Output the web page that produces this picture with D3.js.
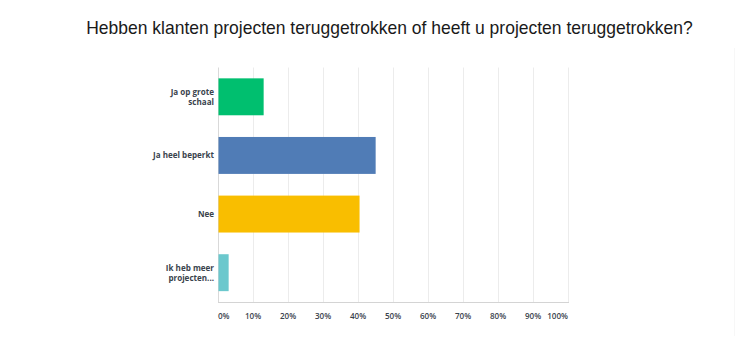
<!DOCTYPE html>
<html>
<head>
<meta charset="utf-8">
<script src="https://cdn.jsdelivr.net/npm/d3@7"></script>
<style>
  html, body { margin: 0; padding: 0; background: #ffffff; }
  svg { display: block; }
</style>
</head>
<body>
<svg id="chart" width="750" height="341"></svg>
<script>
// Survey answers and their share of respondents (%)
const categories = [
  ["Ja op grote", "schaal"],
  ["Ja heel beperkt"],
  ["Nee"],
  ["Ik heb meer", "projecten..."]
];
const values = [12.9, 44.9, 40.3, 2.9];
const barColors = ["#00bf6f", "#507cb6", "#f9be00", "#6bc8cd"];
const tickValues = [0, 10, 20, 30, 40, 50, 60, 70, 80, 90, 100];
const tickLabels = ["0%", "10%", "20%", "30%", "40%", "50%", "60%", "70%", "80%", "90%", "100%"];
const title = "Hebben klanten projecten teruggetrokken of heeft u projecten teruggetrokken?";

const svg = d3.select("#chart");
const plot = { left: 218, right: 568, top: 67.5, bottom: 302 };

const x = d3.scaleLinear().domain([0, 100]).range([plot.left, plot.right]);
const y = d3.scaleBand()
  .domain(d3.range(categories.length))
  .range([plot.top, plot.bottom])
  .paddingInner(0.37)
  .paddingOuter(0.185);

// faint frame line on the right
svg.append("line")
  .attr("x1", 734.5).attr("x2", 734.5)
  .attr("y1", 48).attr("y2", 336)
  .attr("stroke", "#f7f7f7").attr("stroke-width", 1);

// title
const titleText = svg.append("text")
  .attr("x", 389.5).attr("y", 34)
  .attr("text-anchor", "middle")
  .attr("font-family", "'Liberation Sans', Arial, sans-serif")
  .attr("font-size", 17)
  .attr("fill", "#1a1a1a")
  .text(title);
const tw = titleText.node().getComputedTextLength();
titleText.attr("font-size", 17 * 607 / tw);

// vertical gridlines
svg.append("g")
  .selectAll("line")
  .data(tickValues)
  .join("line")
  .attr("x1", d => Math.round(x(d)) + 0.5)
  .attr("x2", d => Math.round(x(d)) + 0.5)
  .attr("y1", plot.top)
  .attr("y2", plot.bottom)
  .attr("stroke", d => d === 0 ? "#d9d9d9" : "#ececec")
  .attr("stroke-width", 1);

// bottom axis line
svg.append("line")
  .attr("x1", plot.left).attr("x2", plot.right + 1)
  .attr("y1", plot.bottom + 0.5).attr("y2", plot.bottom + 0.5)
  .attr("stroke", "#d4d4d4").attr("stroke-width", 1.2);

// bars
svg.append("g")
  .selectAll("rect")
  .data(values)
  .join("rect")
  .attr("x", x(0) + 0.5)
  .attr("y", (d, i) => y(i))
  .attr("width", d => x(d) - x(0))
  .attr("height", y.bandwidth())
  .attr("fill", (d, i) => barColors[i]);

// label font sized so "Ja heel beperkt" spans about 61px
const labelFont = "'Open Sans', 'DejaVu Sans', sans-serif";
const probe = svg.append("text")
  .attr("font-family", labelFont).attr("font-size", 10).attr("font-weight", 700)
  .text("Ja heel beperkt");
const labelSize = 10 * 61 / probe.node().getComputedTextLength();
probe.remove();

// category labels
const catG = svg.append("g");
categories.forEach((lines, i) => {
  const cy = y(i) + y.bandwidth() / 2;
  const lh = 10;
  const t = catG.append("text")
    .attr("text-anchor", "end")
    .attr("font-family", labelFont)
    .attr("font-size", labelSize)
    .attr("font-weight", 700)
    .attr("fill", "#3a434d");
  lines.forEach((ln, j) => {
    t.append("tspan")
      .attr("x", 214)
      .attr("y", cy + (j - (lines.length - 1) / 2) * lh + 3)
      .text(ln);
  });
});

// x tick labels
svg.append("g")
  .selectAll("text")
  .data(tickValues)
  .join("text")
  .attr("x", d => x(d))
  .attr("y", 319)
  .attr("text-anchor", (d, i) => i === 0 ? "start" : i === tickValues.length - 1 ? "end" : "middle")
  .attr("font-family", labelFont)
  .attr("font-size", labelSize)
  .attr("font-weight", 600)
  .attr("fill", "#3a434d")
  .text((d, i) => tickLabels[i]);
</script>
</body>
</html>
